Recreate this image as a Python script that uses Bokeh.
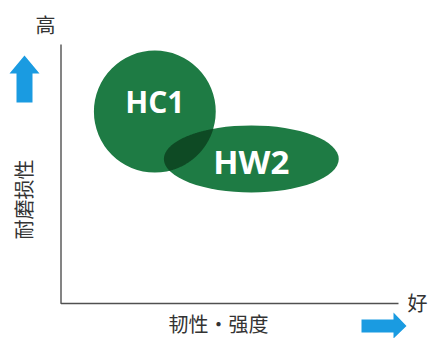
import numpy as np
from bokeh.plotting import figure
from bokeh.models import Range1d, ColumnDataSource
from bokeh.core.properties import value
from bokeh.embed import file_html
from bokeh.resources import INLINE

# ---- data (axes run 0..100 in both directions) ----
grades = ["HC1", "HW2"]
toughness = [27.8, 56.4]        # x centre
wear_resistance = [74.1, 55.8]  # y centre
spread_x = [36.1, 51.8]         # width in x units
spread_y = [47.1, 25.9]         # height in y units

x_title = "韧性・强度"
y_title = "耐磨损性"
y_high = "高"
x_good = "好"

# ---- styling / layout ----
label_dy = [4.0, -0.8]          # label shift in y units
label_size = ["30px", "33px"]

W, H = 435, 338
OFF = 0
AX0, AX1 = 60.5, 398.0
AY0, AY1 = 303.0, 44.0
SX = (AX1 - AX0) / 100.0
SY = (AY0 - AY1) / 100.0

def px(X):
    return (X - AX0) / SX

def py(Y):
    return (AY0 - Y) / SY

GREEN = "#1e7b44"
DARK = "#0e4a24"
BLUE = "#1a9be1"
GREY = "#505050"

p = figure(width=W, height=H, output_backend="svg", toolbar_location=None,
           x_range=Range1d(px(OFF), px(OFF + W)), y_range=Range1d(py(OFF + H), py(OFF)),
           min_border=0, outline_line_color=None)
p.axis.visible = False
p.grid.visible = False
p.background_fill_color = "white"
p.border_fill_color = "white"

# axes lines
p.line([0, 0, 100], [100, 0, 0], line_color=GREY, line_width=1.4)

# shapes
src = ColumnDataSource(dict(x=toughness, y=wear_resistance, w=spread_x, h=spread_y,
                            label=grades, fs=label_size,
                            ly=[a + b for a, b in zip(wear_resistance, label_dy)]))
p.ellipse(x="x", y="y", width="w", height="h", source=src,
          fill_color=GREEN, line_color=None)

# intersection (computed in pixel space from the shape parameters)
def boundary(i, n=720):
    t = np.linspace(0, 2 * np.pi, n, endpoint=False)
    cx, cy = toughness[i] * SX, wear_resistance[i] * SY
    a, b = spread_x[i] * SX / 2, spread_y[i] * SY / 2
    return cx + a * np.cos(t), cy + b * np.sin(t)

def inside(i, xs, ys):
    cx, cy = toughness[i] * SX, wear_resistance[i] * SY
    a, b = spread_x[i] * SX / 2, spread_y[i] * SY / 2
    return ((xs - cx) / a) ** 2 + ((ys - cy) / b) ** 2 <= 1.0

x0, y0 = boundary(0)
x1, y1 = boundary(1)
m0 = inside(1, x0, y0)
m1 = inside(0, x1, y1)
ix = np.concatenate([x0[m0], x1[m1]])
iy = np.concatenate([y0[m0], y1[m1]])
if len(ix) > 2:
    mx, my = ix.mean(), iy.mean()
    order = np.argsort(np.arctan2(iy - my, ix - mx))
    p.patch(list(ix[order] / SX), list(iy[order] / SY), fill_color=DARK, line_color=None)

p.text(x="x", y="ly", text="label", source=src, text_color="white",
       text_font=value("Open Sans"), text_font_style="bold", text_font_size="fs",
       text_align="center", text_baseline="middle")

# arrows
up_x = [9, 24, 39, 32, 32, 16, 16]
up_y = [73, 55, 73, 73, 102, 102, 73]
p.patch([px(v) for v in up_x], [py(v) for v in up_y], fill_color=BLUE, line_color=None)
rt_x = [361, 393, 393, 406, 393, 393, 361]
rt_y = [319, 319, 312, 325.5, 338, 332, 332]
p.patch([px(v) for v in rt_x], [py(v) for v in rt_y], fill_color=BLUE, line_color=None)

cjk = value("Noto Sans CJK SC")
p.text(x=[px(45)], y=[py(24)], text=[y_high], text_font=cjk, text_font_size="20px",
       text_color="#333333", text_align="center", text_baseline="middle")
p.text(x=[px(417)], y=[py(302)], text=[x_good], text_font=cjk, text_font_size="20px",
       text_color="#333333", text_align="center", text_baseline="middle")
p.text(x=[px(218)], y=[py(323)], text=[x_title], text_font=cjk, text_font_size="20px",
       text_color="#333333", text_align="center", text_baseline="middle")
p.text(x=[px(23)], y=[py(199)], text=[y_title], text_font=cjk, text_font_size="20px",
       text_color="#333333", text_align="center", text_baseline="middle", angle=np.pi / 2)

open("out.html", "w").write(file_html(p, INLINE))
